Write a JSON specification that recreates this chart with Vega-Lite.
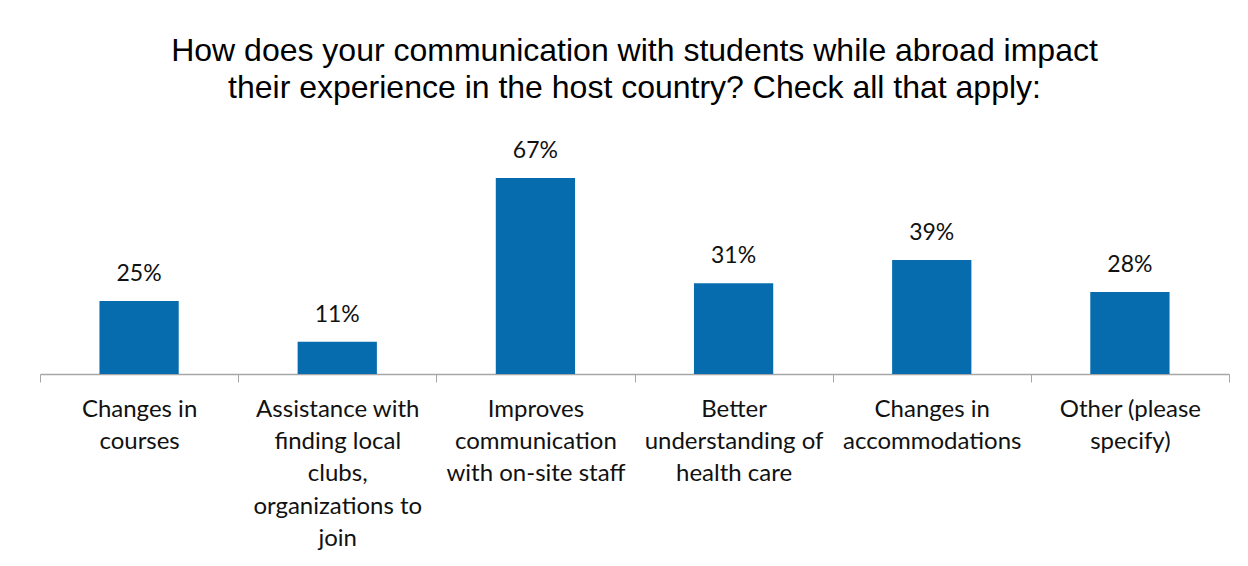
{
  "$schema": "https://vega.github.io/schema/vega-lite/v6.json",
  "width": 1189,
  "height": 234,
  "autosize": "none",
  "padding": {"left": 40, "top": 140, "right": 19, "bottom": 192},
  "background": "white",
  "title": {
    "text": ["How does your communication with students while abroad impact", "their experience in the host country? Check all that apply:"],
    "font": "Liberation Sans",
    "fontSize": 32,
    "fontWeight": "normal",
    "color": "#000000",
    "anchor": "middle",
    "lineHeight": 37,
    "baseline": "alphabetic",
    "offset": 10
  },
  "config": {"view": {"stroke": null}},
  "data": {
    "values": [
      {"category": "Changes in courses", "percent": 0.25},
      {"category": "Assistance with finding local clubs, organizations to join", "percent": 0.11},
      {"category": "Improves communication with on-site staff", "percent": 0.67},
      {"category": "Better understanding of health care", "percent": 0.31},
      {"category": "Changes in accommodations", "percent": 0.39},
      {"category": "Other (please specify)", "percent": 0.28}
    ]
  },
  "encoding": {
    "x": {
      "field": "category",
      "type": "nominal",
      "sort": null,
      "scale": {"paddingInner": 0, "paddingOuter": 0},
      "axis": {
        "title": null,
        "labelAngle": 0,
        "tickBand": "extent",
        "tickSize": 8,
        "tickColor": "#a6a6a6",
        "domainColor": "#a6a6a6",
        "tickWidth": 1,
        "domainWidth": 1.3,
        "labelFont": "Lato",
        "labelFontSize": 24,
        "labelColor": "#111111",
        "labelLineHeight": 32.4,
        "labelPadding": 15,
        "labelBaseline": "top",
        "labelAlign": "center",
        "labelLimit": 0,
        "labelExpr": "{'Changes in courses': ['Changes in', 'courses'], 'Assistance with finding local clubs, organizations to join': ['Assistance with', 'finding local', 'clubs,', 'organizations to', 'join'], 'Improves communication with on-site staff': ['Improves', 'communication', 'with on-site staff'], 'Better understanding of health care': ['Better', 'understanding of', 'health care'], 'Changes in accommodations': ['Changes in', 'accommodations'], 'Other (please specify)': ['Other (please', 'specify)']}[datum.value]"
      }
    },
    "y": {
      "field": "percent",
      "type": "quantitative",
      "scale": {"domain": [0, 0.8]},
      "axis": null
    }
  },
  "layer": [
    {"mark": {"type": "bar", "color": "#066cad", "width": {"band": 0.4}}},
    {
      "mark": {"type": "text", "baseline": "bottom", "dy": -15, "font": "Lato", "fontSize": 23, "color": "#111111"},
      "encoding": {"text": {"field": "percent", "type": "quantitative", "format": ".0%"}}
    }
  ]
}
